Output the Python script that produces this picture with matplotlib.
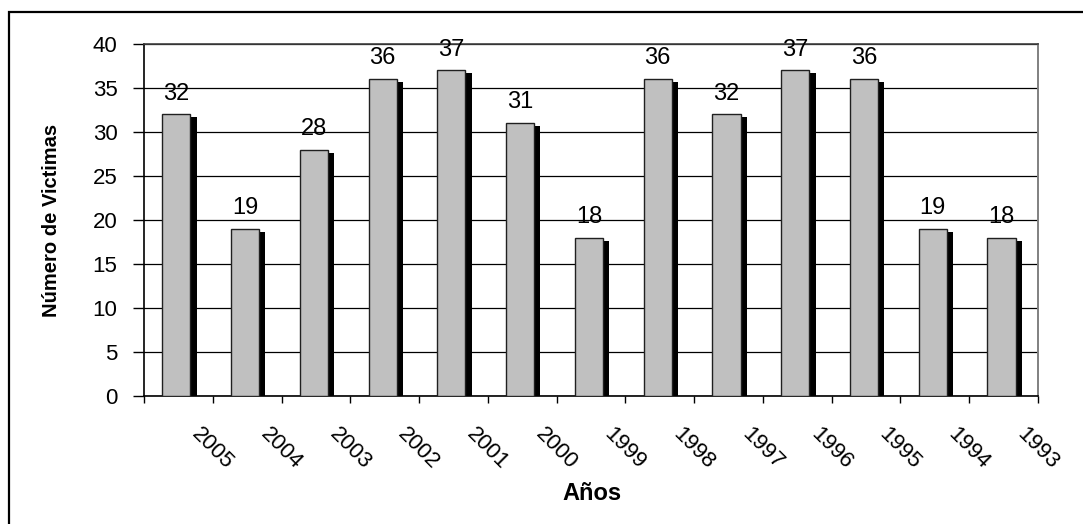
import numpy as np
import matplotlib
matplotlib.use("Agg")
import matplotlib.pyplot as plt
from matplotlib.patches import Rectangle
from matplotlib.transforms import blended_transform_factory, ScaledTranslation

years = ["2005", "2004", "2003", "2002", "2001", "2000", "1999",
         "1998", "1997", "1996", "1995", "1994", "1993"]
victims = [32, 19, 28, 36, 37, 31, 18, 36, 32, 37, 36, 19, 18]
y_ticks = [0, 5, 10, 15, 20, 25, 30, 35, 40]

plt.rcParams['font.family'] = ['Liberation Sans', 'DejaVu Sans']

W, H = 1083, 524
fig = plt.figure(figsize=(W / 100, H / 100), dpi=100)
ax = fig.add_axes([144 / W, (H - 396) / H, (1038 - 144) / W, (396 - 44) / H])

x = np.arange(len(years))
front_w = 0.41
shadow_w = 0.09
front_off = -0.03
shadow_drop = 0.34

# shadow (3D side)
ax.bar(x + front_off + front_w / 2 + shadow_w / 2,
       np.array(victims) - shadow_drop, width=shadow_w,
       color='black', edgecolor='none', zorder=2)
# front face
ax.bar(x + front_off, victims, width=front_w, color='#C0C0C0',
       edgecolor='#202020', linewidth=1.0, zorder=3)

for xi, v in zip(x, victims):
    ax.annotate(str(v), (xi + front_off, v), xytext=(0, 7),
                textcoords='offset points', ha='center', va='bottom',
                fontsize=17, zorder=4)

ax.set_xlim(-0.5, len(years) - 0.5)
ax.set_ylim(0, 40)
ax.set_yticks(y_ticks)
ax.set_yticklabels([str(t) for t in y_ticks], fontsize=16)
ax.tick_params(axis='y', direction='out', length=8, width=1, pad=11)
ax.set_xticks(np.arange(-0.5, len(years), 1))
ax.set_xticklabels([])
ax.tick_params(axis='x', direction='out', length=5, width=1)

ax.yaxis.grid(True, color='black', linewidth=0.9, zorder=0)
ax.set_axisbelow(True)
for s in ['left', 'bottom']:
    ax.spines[s].set_color('black')
    ax.spines[s].set_linewidth(1.2)
ax.spines['top'].set_color('#404040')
ax.spines['top'].set_linewidth(1.2)
ax.spines['right'].set_color('#808080')
ax.spines['right'].set_linewidth(1.4)

trans = blended_transform_factory(ax.transData, ax.transAxes)
for xi, lab in zip(x, years):
    ax.text(xi, 0, lab, rotation=-45, ha='left', va='top', fontsize=16,
            transform=trans + ScaledTranslation(9 / 100, -28 / 100, fig.dpi_scale_trans))

fig.text(592 / W, 1 - 494 / H, "Años", ha='center', va='center',
         fontsize=17, fontweight='bold')
fig.text(52 / W, 1 - 220 / H, "Número de Victimas", ha='center', va='center',
         rotation=90, fontsize=14.5, fontweight='bold')

fig.add_artist(Rectangle((9 / W, -0.1), 1.2, (H - 12) / H + 0.1,
                         transform=fig.transFigure, fill=False,
                         edgecolor='black', linewidth=1.6))

fig.savefig("out.png", dpi=100)
